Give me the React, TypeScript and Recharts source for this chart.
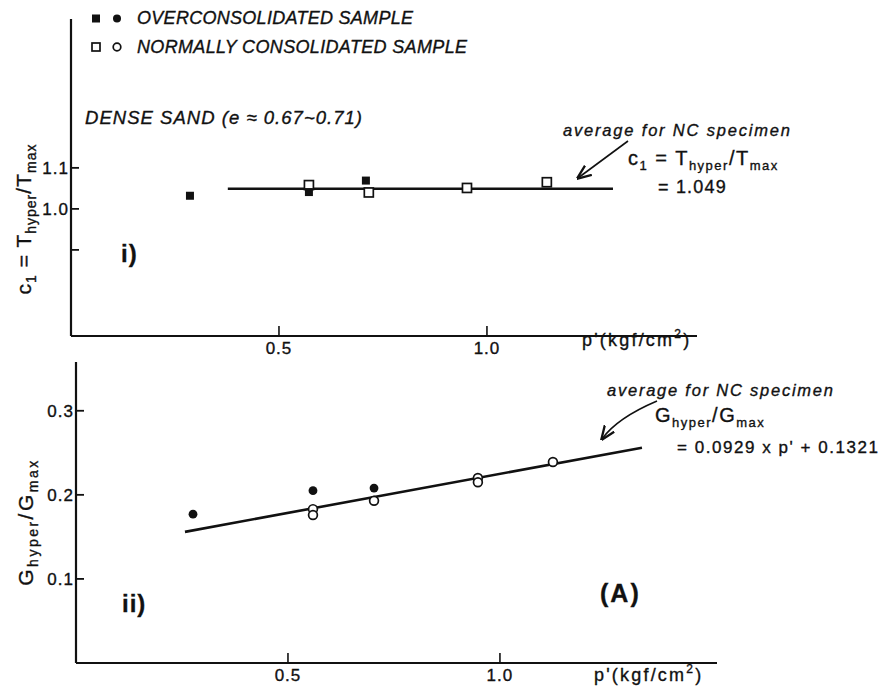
import React from 'react';
import { ScatterChart, Scatter, XAxis, YAxis } from 'recharts';

// i) c1 = T_hyper / T_max against mean effective stress p'
const ocP1 = [0.286, 0.572, 0.709];
const ocC1 = [1.032, 1.041, 1.069];
const ncP1 = [0.572, 0.716, 0.952, 1.144];
const ncC1 = [1.058, 1.04, 1.051, 1.065];
const C1_AVG = 1.049;
const c1FitP = [0.377, 1.303];

// ii) G_hyper / G_max against p'
const ocP2 = [0.276, 0.559, 0.703];
const ocG = [0.177, 0.205, 0.208];
const ncP2 = [0.559, 0.559, 0.703, 0.948, 0.948, 1.125];
const ncG = [0.183, 0.176, 0.193, 0.22, 0.215, 0.239];
const G_SLOPE = 0.0929;
const G_INTERCEPT = 0.1321;
const gFitP = [0.257, 1.335];

const pTicks = [0.5, 1.0];
const c1Ticks = [0.9, 1.0, 1.1];
const c1Labelled = [1.0, 1.1];
const gTicks = [0.1, 0.2, 0.3];

const FONT = '"Liberation Sans", Arial, Helvetica, sans-serif';
const INK = '#111';

const zip = (xs: number[], ys: number[]) => xs.map((p, i) => ({ p, v: ys[i] }));

const ocTop = zip(ocP1, ocC1);
const ncTop = zip(ncP1, ncC1);
const fitTop = c1FitP.map((p) => ({ p, v: C1_AVG }));
const ocBot = zip(ocP2, ocG);
const ncBot = zip(ncP2, ncG);
const fitBot = gFitP.map((p) => ({ p, v: G_SLOPE * p + G_INTERCEPT }));

const FilledSquare = (props: any) => (
  <rect x={props.cx - 4} y={props.cy - 4} width={8} height={8} fill={INK} />
);
const OpenSquare = (props: any) => (
  <rect x={props.cx - 4.5} y={props.cy - 4.5} width={9} height={9} fill="#fff" stroke={INK} strokeWidth={1.7} />
);
const FilledCircle = (props: any) => <circle cx={props.cx} cy={props.cy} r={4.4} fill={INK} />;
const OpenCircle = (props: any) => (
  <circle cx={props.cx} cy={props.cy} r={4.4} fill="#fff" stroke={INK} strokeWidth={1.7} />
);
const NoDot = () => <g />;

// slightly heavier glyphs, like the printed figure
const heavy = { stroke: INK, strokeWidth: 0.35 };

// ticks point into the plot, labels sit outside
const PTick = (props: any) => {
  const { x, y, payload } = props;
  return (
    <g>
      <line x1={x} y1={y} x2={x} y2={y - 10} stroke={INK} strokeWidth={1.6} />
      <text x={x} y={y + 18} textAnchor="middle" fontFamily={FONT} fontSize={17} letterSpacing={1} fill={INK} {...heavy}>
        {payload.value.toFixed(1)}
      </text>
    </g>
  );
};

const makeYTick = (labelled: number[]) => (props: any) => {
  const { x, y, payload } = props;
  const show = labelled.some((t) => Math.abs(t - payload.value) < 1e-6);
  return (
    <g>
      <line x1={x} y1={y} x2={x + 8} y2={y} stroke={INK} strokeWidth={1.8} />
      {show && (
        <text x={x - 2} y={y + 6} textAnchor="end" fontFamily={FONT} fontSize={17} letterSpacing={1} fill={INK} {...heavy}>
          {payload.value.toFixed(1)}
        </text>
      )}
    </g>
  );
};

const C1Tick = makeYTick(c1Labelled);
const GTick = makeYTick(gTicks);

const axisLine = { stroke: INK, strokeWidth: 2.2 };
const fitLine = { stroke: INK, strokeWidth: 2.6 };

function Overlay() {
  const it = { fontFamily: FONT, fontStyle: 'italic' as const, fill: INK, ...heavy };
  const up = { fontFamily: FONT, fill: INK, ...heavy };
  return (
    <svg width={885} height={686} style={{ position: 'absolute', left: 0, top: 0, pointerEvents: 'none' }}>
      <defs>
        <marker id="head" viewBox="0 0 10 10" refX="9" refY="5" markerWidth="9" markerHeight="9" orient="auto-start-reverse">
          <path d="M0,1 L10,5 L0,9" fill="none" stroke={INK} strokeWidth={1.6} />
        </marker>
      </defs>

      {/* legend */}
      <rect x={92} y={14.5} width={8} height={8} fill={INK} />
      <circle cx={117} cy={18.5} r={4} fill={INK} />
      <text x={137} y={24} fontSize={18} textLength={276} lengthAdjust="spacing" {...it}>OVERCONSOLIDATED SAMPLE</text>
      <rect x={92} y={43} width={8} height={8} fill="#fff" stroke={INK} strokeWidth={1.7} />
      <circle cx={117} cy={47} r={3.8} fill="#fff" stroke={INK} strokeWidth={1.7} />
      <text x={137} y={53} fontSize={18} textLength={330} lengthAdjust="spacing" {...it}>NORMALLY CONSOLIDATED SAMPLE</text>

      <text x={85} y={124} fontSize={18.5} textLength={277} lengthAdjust="spacing" {...it}>DENSE SAND (e ≈ 0.67~0.71)</text>

      {/* y titles */}
      <text transform="rotate(-90 31 219)" x={31} y={219} textAnchor="middle" fontSize={21} letterSpacing={1} {...up}>
        c<tspan dy={5} fontSize={14}>1</tspan>
        <tspan dy={-5}> = T</tspan>
        <tspan dy={5} fontSize={14}>hyper</tspan>
        <tspan dy={-5}>/T</tspan>
        <tspan dy={5} fontSize={14}>max</tspan>
      </text>
      <text transform="rotate(-90 33 522)" x={33} y={522} textAnchor="middle" fontSize={21} letterSpacing={2.5} {...up}>
        G<tspan dy={5} fontSize={14}>hyper</tspan>
        <tspan dy={-5}>/G</tspan>
        <tspan dy={5} fontSize={14}>max</tspan>
      </text>

      {/* panel tags */}
      <text x={121} y={262} fontSize={24} fontWeight="bold" letterSpacing={1} {...up}>i)</text>
      <text x={122} y={612} fontSize={24} fontWeight="bold" letterSpacing={1} {...up}>ii)</text>
      <text x={600} y={602} fontSize={25} fontWeight="bold" letterSpacing={2} {...up}>(A)</text>

      {/* x titles */}
      <text x={582} y={346} fontSize={18} letterSpacing={2.2} {...up}>
        p'(kgf/cm<tspan dy={-8} fontSize={12}>2</tspan>
        <tspan dy={8}>)</tspan>
      </text>
      <text x={594} y={681} fontSize={18} letterSpacing={2.2} {...up}>
        p'(kgf/cm<tspan dy={-8} fontSize={12}>2</tspan>
        <tspan dy={8}>)</tspan>
      </text>

      {/* annotation, panel i */}
      <text x={563} y={136} fontSize={16.5} textLength={227} lengthAdjust="spacing" {...it}>average for NC specimen</text>
      <line x1={628} y1={141} x2={578} y2={178} stroke={INK} strokeWidth={1.6} markerEnd="url(#head)" />
      <text x={628} y={165} fontSize={20} letterSpacing={1.5} {...up}>
        c<tspan dy={5} fontSize={13}>1</tspan>
        <tspan dy={-5}> = T</tspan>
        <tspan dy={5} fontSize={13}>hyper</tspan>
        <tspan dy={-5}>/T</tspan>
        <tspan dy={5} fontSize={13}>max</tspan>
      </text>
      <text x={658} y={193} fontSize={18} letterSpacing={1.2} {...up}>= 1.049</text>

      {/* annotation, panel ii */}
      <text x={607} y={396} fontSize={16.5} textLength={226} lengthAdjust="spacing" {...it}>average for NC specimen</text>
      <path d="M657,401 Q617,418 602,439" fill="none" stroke={INK} strokeWidth={1.6} markerEnd="url(#head)" />
      <text x={655} y={422} fontSize={20} letterSpacing={1.5} {...up}>
        G<tspan dy={5} fontSize={13}>hyper</tspan>
        <tspan dy={-5}>/G</tspan>
        <tspan dy={5} fontSize={13}>max</tspan>
      </text>
      <text x={677} y={453} fontSize={17} textLength={201} lengthAdjust="spacing" {...up}>= 0.0929 x p' + 0.1321</text>
    </svg>
  );
}

export default function App() {
  return (
    <div style={{ position: 'absolute', left: 0, top: 0, width: 885, height: 686, background: '#fff' }}>
      <div style={{ position: 'absolute', left: 0, top: 0 }}>
        <ScatterChart width={885} height={360} margin={{ top: 19, right: 188, bottom: 0, left: 0 }}>
          <XAxis
            type="number"
            dataKey="p"
            domain={[0, 1.505]}
            ticks={pTicks}
            interval={0}
            height={24}
            tickSize={0}
            tickMargin={0}
            tick={PTick}
            axisLine={axisLine}
            allowDataOverflow
          />
          <YAxis
            type="number"
            dataKey="v"
            domain={[0.69, 1.463]}
            ticks={c1Ticks}
            interval={0}
            width={71}
            tickSize={0}
            tickMargin={0}
            tick={C1Tick}
            axisLine={axisLine}
            allowDataOverflow
          />
          <Scatter data={fitTop} line={fitLine} shape={NoDot} isAnimationActive={false} />
          <Scatter data={ncTop} shape={OpenSquare} isAnimationActive={false} />
          <Scatter data={ocTop} shape={FilledSquare} isAnimationActive={false} />
        </ScatterChart>
      </div>
      <div style={{ position: 'absolute', left: 0, top: 340 }}>
        <ScatterChart width={885} height={346} margin={{ top: 22, right: 168, bottom: 0, left: 0 }}>
          <XAxis
            type="number"
            dataKey="p"
            domain={[0, 1.512]}
            ticks={pTicks}
            interval={0}
            height={23}
            tickSize={0}
            tickMargin={0}
            tick={PTick}
            axisLine={axisLine}
            allowDataOverflow
          />
          <YAxis
            type="number"
            dataKey="v"
            domain={[0, 0.358]}
            ticks={gTicks}
            interval={0}
            width={76}
            tickSize={0}
            tickMargin={0}
            tick={GTick}
            axisLine={axisLine}
            allowDataOverflow
          />
          <Scatter data={fitBot} line={fitLine} shape={NoDot} isAnimationActive={false} />
          <Scatter data={ncBot} shape={OpenCircle} isAnimationActive={false} />
          <Scatter data={ocBot} shape={FilledCircle} isAnimationActive={false} />
        </ScatterChart>
      </div>
      <Overlay />
    </div>
  );
}
